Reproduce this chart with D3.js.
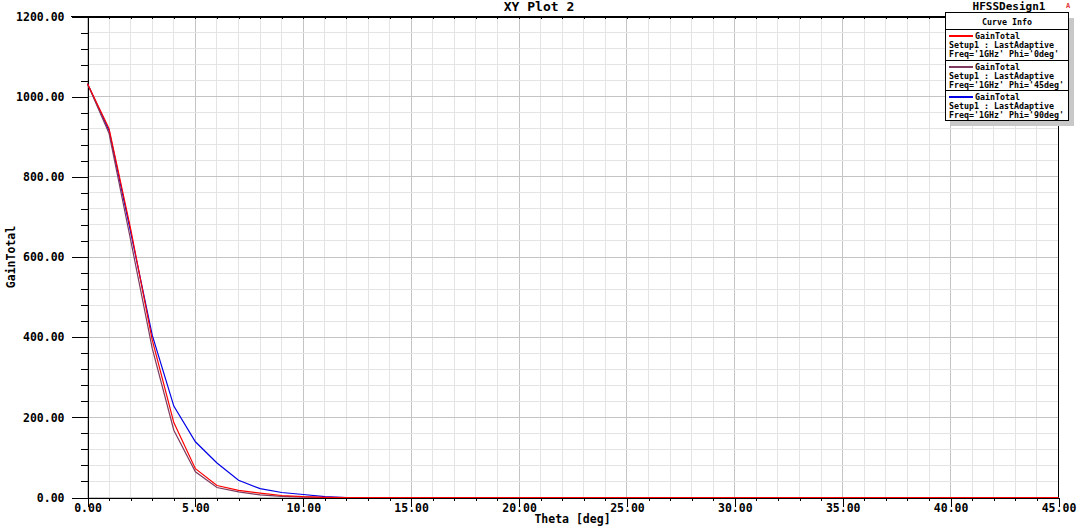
<!DOCTYPE html>
<html><head><meta charset="utf-8">
<script src="https://cdn.jsdelivr.net/npm/d3@7"></script>
<style>
html,body{margin:0;padding:0;background:#fff;}
svg{display:block;}
text{font-family:"DejaVu Sans Mono",monospace;font-weight:bold;fill:#000;}
</style></head>
<body><svg id="c" width="1082" height="528"></svg>
<script>
// ---- data ----
const theta = d3.range(0, 46, 1);
const gainPhi0  = [1032, 920, 670, 393, 187, 72, 30, 18, 11, 5, 2, 0.5, 0, 0, 0, 0, 0, 0, 0, 0, 0, 0, 0, 0, 0, 0, 0, 0, 0, 0, 0, 0, 0, 0, 0, 0, 0, 0, 0, 0, 0, 0, 0, 0, 0, 0];
const gainPhi45 = [1032, 908, 642, 372, 168, 64, 25, 14, 6.5, 3, 1, 0, 0, 0, 0, 0, 0, 0, 0, 0, 0, 0, 0, 0, 0, 0, 0, 0, 0, 0, 0, 0, 0, 0, 0, 0, 0, 0, 0, 0, 0, 0, 0, 0, 0, 0];
const gainPhi90 = [1032, 915, 662, 405, 228, 139, 86, 43, 22, 12.5, 7.5, 2, 0, 0, 0, 0, 0, 0, 0, 0, 0, 0, 0, 0, 0, 0, 0, 0, 0, 0, 0, 0, 0, 0, 0, 0, 0, 0, 0, 0, 0, 0, 0, 0, 0, 0];
const seriesNames = ["Freq='1GHz' Phi='0deg'", "Freq='1GHz' Phi='45deg'", "Freq='1GHz' Phi='90deg'"];
const seriesColors = ["#ff0000", "#7e3a5e", "#0000e6"];
const xTicks = d3.range(0, 46, 5);
const yTicks = d3.range(0, 1201, 200);
const xMinor = d3.range(0, 46, 1);
const yMinor = d3.range(0, 1201, 40);

const svg = d3.select("#c");
const x = d3.scaleLinear().domain([0, 45]).range([87.5, 1058.5]);
const y = d3.scaleLinear().domain([0, 1200]).range([497.5, 16.5]);
const fmt = d3.format(".2f");

// grid
const g = svg.append("g").attr("shape-rendering", "crispEdges");
g.selectAll(".vm").data(xMinor).enter().append("line")
  .attr("x1", d => x(d)).attr("x2", d => x(d)).attr("y1", y(0)).attr("y2", y(1200))
  .attr("stroke", d => d % 5 === 0 ? "#c4c4c4" : "#e4e4e4");
g.selectAll(".hm").data(yMinor).enter().append("line")
  .attr("y1", d => y(d)).attr("y2", d => y(d)).attr("x1", x(0)).attr("x2", x(45))
  .attr("stroke", d => d % 200 === 0 ? "#c4c4c4" : "#e4e4e4");

// axes
const yAxis = d3.axisLeft(y).tickValues(yMinor).tickSize(7).tickFormat("");
const ya = svg.append("g").attr("transform", `translate(${x(0)},0)`).call(yAxis);
const yAxisMaj = d3.axisLeft(y).tickValues(yTicks).tickSize(16).tickPadding(7).tickFormat(fmt);
const yb = svg.append("g").attr("transform", `translate(${x(0)},0)`).call(yAxisMaj);
const xAxis = d3.axisBottom(x).tickValues(xMinor).tickSize(3).tickFormat("");
const xa = svg.append("g").attr("transform", `translate(0,${y(0)})`).call(xAxis);
const xAxisMaj = d3.axisBottom(x).tickValues(xTicks).tickSize(9).tickPadding(-3).tickFormat(fmt);
const xb = svg.append("g").attr("transform", `translate(0,${y(0)})`).call(xAxisMaj);
// top inner ticks
const xTop = d3.axisTop(x).tickValues(xMinor).tickSize(-2).tickFormat("");
const xt = svg.append("g").attr("transform", `translate(0,${y(1200)})`).call(xTop);
[ya, yb, xa, xb, xt].forEach(a => {
  a.attr("shape-rendering", "crispEdges");
  a.selectAll("path").attr("stroke", "#000");
  a.selectAll("line").attr("stroke", "#000");
  a.selectAll("text").attr("font-family", "DejaVu Sans Mono").attr("font-weight", "bold")
    .attr("font-size", "11.5px").attr("fill", "#000");
});
xb.selectAll("text").attr("dy", "0.71em");
// frame
svg.append("line").attr("x1", 71).attr("x2", x(45)).attr("y1", y(1200)).attr("y2", y(1200))
  .attr("stroke", "#000").attr("shape-rendering", "crispEdges");
svg.append("line").attr("x1", x(45)).attr("x2", x(45)).attr("y1", y(1200)).attr("y2", y(0))
  .attr("stroke", "#000").attr("shape-rendering", "crispEdges");

// curves
const line = d3.line().x((d, i) => x(theta[i])).y(d => y(d));
const curves = [gainPhi90, gainPhi45, gainPhi0];
const curveColors = [seriesColors[2], seriesColors[1], seriesColors[0]];
svg.append("g").selectAll("path").data(curves).enter().append("path")
  .attr("d", line).attr("fill", "none")
  .attr("stroke", (d, i) => curveColors[i]).attr("stroke-width", 1.2);

// titles
svg.append("text").attr("x", 539).attr("y", 11).attr("text-anchor", "middle")
  .attr("font-size", "13px").text("XY Plot 2");
svg.append("text").attr("x", 1009).attr("y", 10).attr("text-anchor", "middle")
  .attr("font-size", "11px").text("HFSSDesign1");
svg.append("text").attr("x", 1068).attr("y", 8).attr("text-anchor", "middle")
  .attr("font-size", "7px").style("fill", "#e03030").text("A");
svg.append("text").attr("x", 572.5).attr("y", 523).attr("text-anchor", "middle")
  .attr("font-size", "11.5px").text("Theta [deg]");
svg.append("text").attr("transform", `translate(15,${(y(0) + y(1200)) / 2}) rotate(-90)`)
  .attr("text-anchor", "middle").attr("font-size", "11.5px").text("GainTotal");

// legend
const L = svg.append("g").attr("shape-rendering", "crispEdges");
const lx = 945.5, ly = 12.5, lw = 123, lh = 108;
L.append("rect").attr("x", lx + 5).attr("y", ly + 5).attr("width", lw).attr("height", lh).attr("fill", "#c8c8c8");
L.append("rect").attr("x", lx).attr("y", ly).attr("width", lw).attr("height", lh).attr("fill", "#fff").attr("stroke", "#000");
L.append("text").attr("x", lx + lw / 2).attr("y", ly + 12).attr("text-anchor", "middle")
  .attr("font-size", "8.3px").attr("font-weight", "normal").text("Curve Info");
const sepY = [29.5, 60.5, 90.5];
sepY.forEach(s => L.append("line").attr("x1", lx).attr("x2", lx + lw).attr("y1", s).attr("y2", s).attr("stroke", "#000"));
seriesNames.forEach((nm, i) => {
  const top = sepY[i];
  L.append("line").attr("x1", 949).attr("x2", 973).attr("y1", top + 6.5).attr("y2", top + 6.5)
    .attr("stroke", seriesColors[i]).attr("stroke-width", 2);
  L.append("text").attr("x", 975).attr("y", top + 9.5).attr("font-size", "8.3px").attr("font-weight", "normal").text("GainTotal");
  L.append("text").attr("x", 949).attr("y", top + 18.5).attr("font-size", "8.3px").attr("font-weight", "normal").text("Setup1 : LastAdaptive");
  L.append("text").attr("x", 949).attr("y", top + 27.5).attr("font-size", "8.3px").attr("font-weight", "normal").text(nm);
});
</script></body></html>
